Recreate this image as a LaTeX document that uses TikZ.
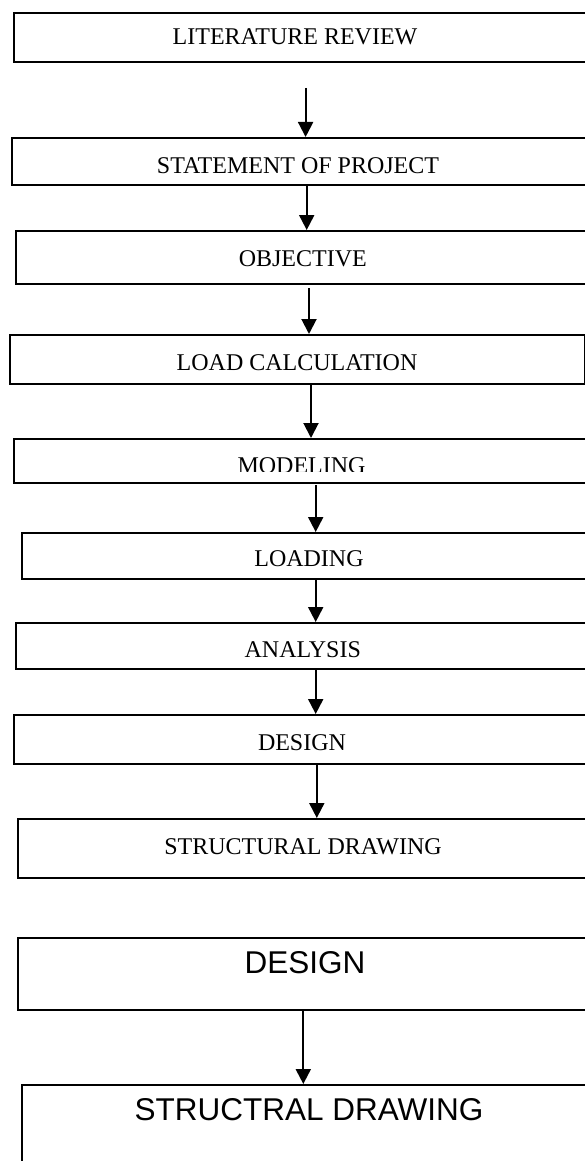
\documentclass[tikz,border=0pt]{standalone}
\usepackage{fontspec}
\setmainfont{Liberation Serif}
\newfontfamily\arialfont{Liberation Sans}
\usetikzlibrary{arrows.meta}
\begin{document}
\begin{tikzpicture}[x=1pt,y=-1pt,
  box/.style={draw, line width=1.7pt, rectangle, anchor=north west, inner sep=0pt},
  lbl/.style={anchor=base, inner sep=0pt, font=\fontsize{24}{28}\selectfont},
  slbl/.style={anchor=base, inner sep=0pt, font=\arialfont\fontsize{31.5}{36}\selectfont},
  arr/.style={line width=2pt, -{Triangle[width=15pt,length=15pt]}}]
\useasboundingbox (0,0) rectangle (585,1161);
\fill[white] (0,0) rectangle (585,1161);
\clip (0,0) rectangle (585,1161);
% boxes
\node[box, minimum width=587pt, minimum height=49pt] (b1) at (13,12) {};
\node[box, minimum width=589pt, minimum height=47pt] (b2) at (11,137) {};
\node[box, minimum width=585pt, minimum height=53pt] (b3) at (15,230) {};
\node[box, minimum width=575pt, minimum height=49pt] (b4) at (9,334) {};
\node[box, minimum width=587pt, minimum height=44pt] (b5) at (13,438) {};
\node[box, minimum width=579pt, minimum height=46pt] (b6) at (21,532) {};
\node[box, minimum width=585pt, minimum height=46pt] (b7) at (15,622) {};
\node[box, minimum width=587pt, minimum height=49pt] (b8) at (13,714) {};
\node[box, minimum width=583pt, minimum height=59pt] (b9) at (17,818) {};
\node[box, minimum width=583pt, minimum height=72pt] (b10) at (17,937) {};
\node[box, minimum width=579pt, minimum height=116pt] (b11) at (21,1084) {};
% labels
\node[lbl] (t1) at (295,44.5) {LITERATURE REVIEW};
\node[lbl] (t2) at (298,173.3) {STATEMENT OF PROJECT};
\node[lbl] (t3) at (302.8,266) {OBJECTIVE};
\node[lbl] (t4) at (297,370) {LOAD CALCULATION};
\begin{scope}
\clip (0,438) rectangle (585,471.5);
\node[lbl] (t5) at (301.5,473) {MODELING};
\end{scope}
\node[lbl] (t6) at (309,566.7) {LOADING};
\node[lbl] (t7) at (302.8,657.7) {ANALYSIS};
\node[lbl] (t8) at (302,750) {DESIGN};
\node[lbl] (t9) at (303,854.3) {STRUCTURAL DRAWING};
\node[slbl] (t10) at (305,973) {DESIGN};
\node[slbl] (t11) at (309,1120) {STRUCTRAL DRAWING};
% arrow positions
\coordinate (a1) at (305.6,88);
\coordinate (x2) at (306.7,0);
\coordinate (a3) at (309,288);
\coordinate (x4) at (311,0);
\coordinate (a5) at (315.7,485);
\coordinate (x6) at (315.7,0);
\coordinate (x7) at (315.7,0);
\coordinate (x8) at (316.8,0);
\coordinate (x9) at (303.3,0);
% connectors
\draw[arr] (a1) -- (b2.north -| a1);
\draw[arr] (b2.south -| x2) -- (b3.north -| x2);
\draw[arr] (a3) -- (b4.north -| a3);
\draw[arr] (b4.south -| x4) -- (b5.north -| x4);
\draw[arr] (a5) -- (b6.north -| a5);
\draw[arr] (b6.south -| x6) -- (b7.north -| x6);
\draw[arr] (b7.south -| x7) -- (b8.north -| x7);
\draw[arr] (b8.south -| x8) -- (b9.north -| x8);
\draw[arr] (b10.south -| x9) -- (b11.north -| x9);
\end{tikzpicture}
\end{document}
